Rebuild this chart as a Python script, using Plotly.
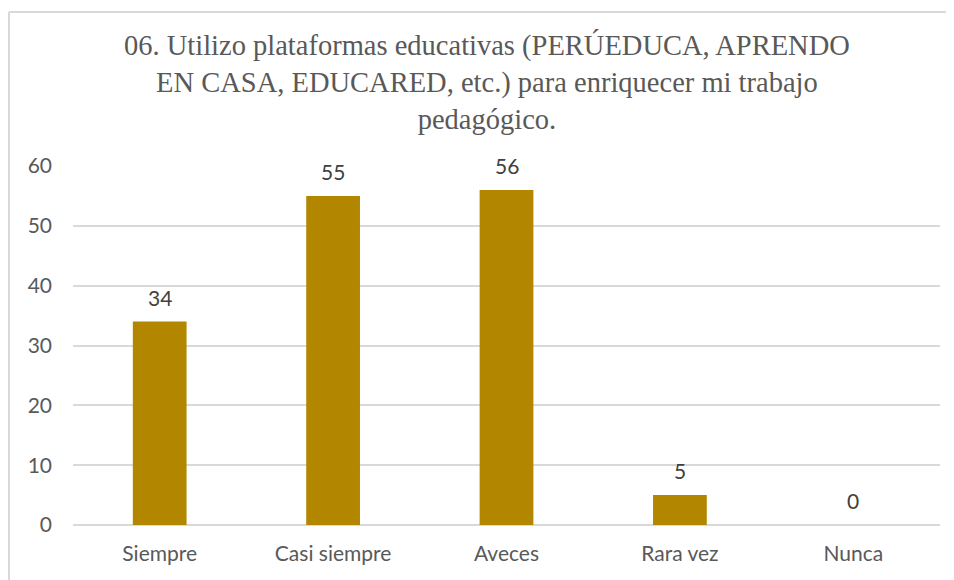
import plotly.graph_objects as go

categories = ["Siempre", "Casi siempre", "Aveces", "Rara vez", "Nunca"]
counts = [34, 55, 56, 5, 0]
y_ticks = [0, 10, 20, 30, 40, 50, 60]

title_text = ("06. Utilizo plataformas educativas (PERÚEDUCA, APRENDO<br>"
              "EN CASA, EDUCARED, etc.) para enriquecer mi trabajo<br>"
              "pedagógico.")

bar_color = "#B38600"
text_color = "#595959"
grid_color = "#D9D9D9"
label_font = "Lato"
title_font = "Liberation Serif"

# the page body adds an 8px offset, so the figure is drawn 8px smaller
W, H = 946, 572
ML, MR, MT, MB = 65, 14, 158, 55
plot_w = W - ML - MR
plot_h = H - MT - MB

fig = go.Figure(go.Bar(
    x=categories,
    y=counts,
    marker=dict(color=bar_color, line=dict(width=0)),
    width=0.31,
    hoverinfo="x+y",
))

# data labels sitting a little above each bar
for cat, val in zip(categories, counts):
    fig.add_annotation(
        x=cat, y=val, text=str(val),
        showarrow=False, yanchor="bottom", yshift=10,
        font=dict(family=label_font, size=21, color="#404040"),
    )

# title as an annotation so its block can be placed exactly
fig.add_annotation(
    text=title_text, showarrow=False,
    xref="paper", yref="paper",
    x=(487 - 8 - ML) / plot_w, xanchor="center",
    y=1 + (MT - 19) / plot_h, yanchor="top",
    align="center",
    font=dict(family=title_font, size=28.5, color=text_color),
)

# chart frame (left + top edges visible in the reference)
fx = -64 / plot_w
fy = 1 + (MT - 4) / plot_h
fig.add_shape(type="line", xref="paper", yref="paper",
              x0=fx, x1=1.05, y0=fy, y1=fy,
              line=dict(color=grid_color, width=2))
fig.add_shape(type="line", xref="paper", yref="paper",
              x0=fx, x1=fx, y0=fy, y1=-0.3,
              line=dict(color=grid_color, width=2))

fig.update_layout(
    width=W,
    height=H,
    paper_bgcolor="white",
    plot_bgcolor="white",
    margin=dict(l=ML, r=MR, t=MT, b=MB),
    showlegend=False,
    font=dict(family=label_font, size=21, color=text_color),
    bargap=0.69,
)
fig.update_xaxes(showgrid=False, showline=False, ticks="",
                 ticklabelstandoff=14,
                 tickfont=dict(size=21, color=text_color))
fig.update_yaxes(
    range=[0, 60],
    tickvals=y_ticks,
    showgrid=True, gridcolor=grid_color, gridwidth=1.5,
    zeroline=True, zerolinecolor=grid_color, zerolinewidth=1.5,
    showline=False, ticks="",
    ticklabelstandoff=20,
    tickfont=dict(size=21, color=text_color),
)

fig.write_html("out.html")
